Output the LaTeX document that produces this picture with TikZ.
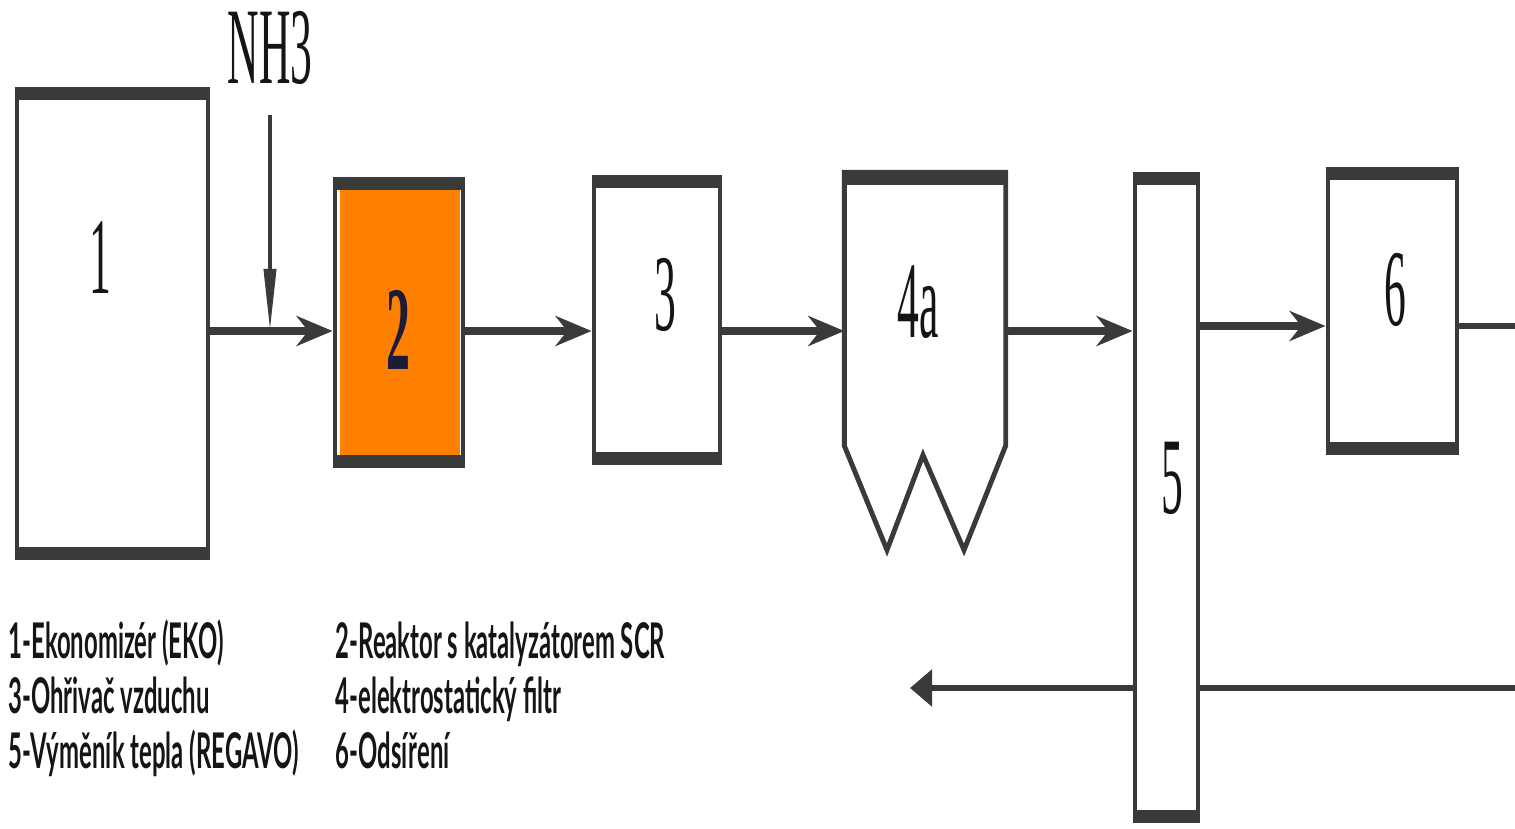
\documentclass[tikz,border=0pt]{standalone}
\usepackage{fontspec}
\usetikzlibrary{arrows.meta, positioning, calc}
\newfontfamily\numfont{Liberation Serif}[FakeStretch=0.4]
\newfontfamily\legfont{Lato}[FakeStretch=0.485]
\definecolor{cline}{HTML}{3A3A3A}
\definecolor{ctext}{HTML}{151515}
\definecolor{corange}{HTML}{FF8000}
\definecolor{cnavy}{HTML}{1C1C3A}
\tikzset{
  unit/.style={draw=cline, line width=1.4pt, inner sep=0pt},
  rim/.style={draw=cline, line width=3.6pt},
  num/.style={font=\numfont\fontsize{31}{31}\selectfont, text=ctext, inner sep=0pt},
  legend/.style={font=\legfont\bfseries\fontsize{14}{14}\selectfont, text=ctext, anchor=base west, inner sep=0pt},
  flow/.style={draw=cline, line width=2pt, -{Stealth[length=0.36cm, width=0.3cm]}},
  pipe/.style={draw=cline, line width=1.6pt},
  dose/.style={draw=cline, line width=1.1pt, -{Triangle[length=0.62cm, width=0.12cm]}},
}

\begin{document}
\begin{tikzpicture}
  \useasboundingbox (0,0) rectangle (15.15,8.28);
  % flow levels
  \coordinate (fy) at (0,4.97);
  \coordinate (gy) at (0,5.02);
  \coordinate (ry) at (0,1.40);
  \coordinate (rx) at (15.15,0);
  \coordinate (rend) at (9.10,1.40);

  % units
  \node[unit, minimum width=1.91cm, minimum height=4.67cm] (b1) at (1.125,5.045) {};
  \node[unit, minimum width=1.28cm, minimum height=2.85cm] (b2) at (3.99,5.055) {};
  \fill[corange] ([shift={(0.07,-0.12)}]b2.north west) rectangle ([shift={(-0.05,0.07)}]b2.south east);
  \node[unit, minimum width=1.26cm, minimum height=2.84cm] (b3) at (6.57,5.08) {};
  \node[inner sep=0pt, minimum width=1.60cm, minimum height=2.72cm] (b4) at (9.25,5.19) {};
  \draw[cline, line width=1.4pt, line join=miter]
    (b4.north west) -- (b4.north east) -- (b4.south east) -- (9.64,2.78) -- (9.23,3.73)
    -- (8.87,2.78) -- (b4.south west) -- cycle;
  \node[unit, minimum width=0.63cm, minimum height=6.45cm] (b5) at (11.665,3.305) {};
  \node[unit, minimum width=1.29cm, minimum height=2.82cm] (b6) at (13.925,5.17) {};

  % thick rims top and bottom
  \foreach \b in {b1,b2,b3,b4,b5,b6}
    \draw[rim] ([yshift=-0.06cm]\b.north west) -- ([yshift=-0.06cm]\b.north east);
  \foreach \b in {b1,b2,b3,b5,b6}
    \draw[rim] ([yshift=0.06cm]\b.south west) -- ([yshift=0.06cm]\b.south east);

  % numbers
  \node[num] (l1) at (1.00,5.70) {1};
  \node[num, font=\numfont\bfseries\fontsize{34}{34}\selectfont, text=cnavy] (l2) at (3.98,4.98) {2};
  \node[num] (l3) at (6.65,5.33) {3};
  \node[num] (l4) at (9.18,5.26) {4a};
  \node[num] (l5) at (11.72,3.50) {5};
  \node[num] (l6) at (13.95,5.38) {6};
  \node[num] (nh) at (2.70,7.80) {NH3};
  \coordinate (nhtop) at ([yshift=-0.3cm]nh.south);

  % connectors
  \draw[dose] (nhtop) -- (nhtop |- fy);
  \draw[flow] (b1.east |- fy) -- (b2.west |- fy);
  \draw[flow] (b2.east |- fy) -- (b3.west |- fy);
  \draw[flow] (b3.east |- fy) -- (b4.west |- fy);
  \draw[flow] (b4.east |- fy) -- (b5.west |- fy);
  \draw[flow] (b5.east |- gy) -- (b6.west |- gy);
  \draw[pipe] (b6.east |- gy) -- (rx |- gy);
  \draw[pipe] (rx |- ry) -- (b5.east |- ry);
  \draw[pipe, -{Triangle[length=0.22cm, width=0.36cm]}] (b5.west |- ry) -- (rend);

  % legend
  \node[legend] (t1) at (0.08,1.70) {1-Ekonomizér (EKO)};
  \node[legend] (t3) at (0.08,1.15) {3-Ohřivač vzduchu};
  \node[legend] (t5) at (0.08,0.60) {5-Výměník tepla (REGAVO)};
  \node[legend] (t2) at (3.35,1.70) {2-Reaktor s katalyzátorem SCR};
  \node[legend] (t4) at (3.35,1.15) {4-elektrostatický filtr};
  \node[legend] (t6) at (3.35,0.60) {6-Odsíření};
\end{tikzpicture}
\end{document}
